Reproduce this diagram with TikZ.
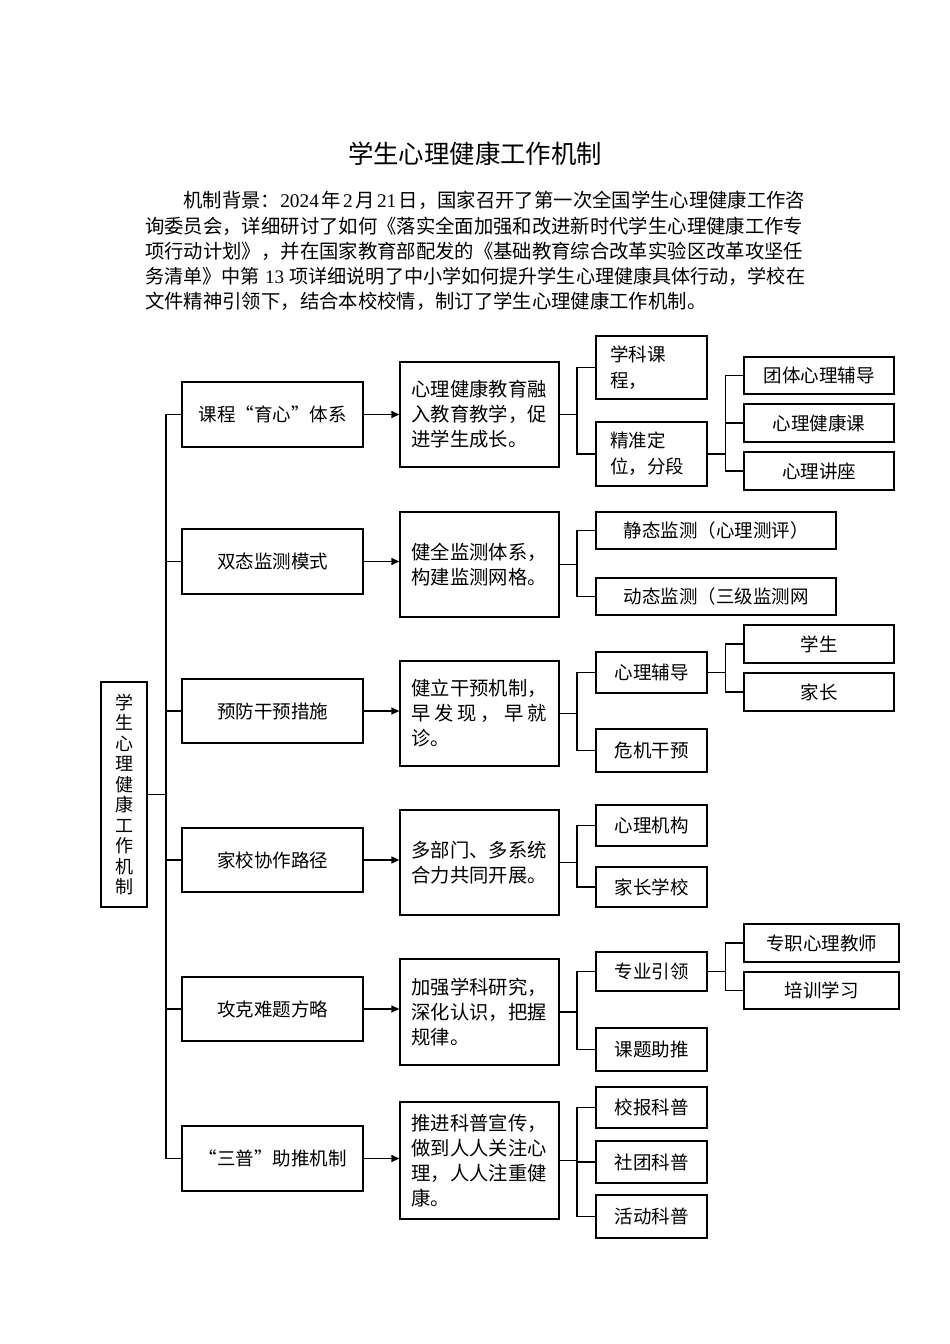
\documentclass[tikz,border=0pt]{standalone}
\usepackage{fontspec}
\setmainfont{Noto Sans CJK SC}
\newfontfamily\tnr{Liberation Serif}
\usetikzlibrary{arrows.meta}
\newcommand\ggap{\hspace{0pt plus 1fil}}
\newcommand\fgap{\hspace{0pt plus 1fil}}
\newcommand\bodyfnt{\fontsize{19.35}{25}\selectfont}
\begin{document}
\begin{tikzpicture}[x=1pt,y=-1pt,
  bx/.style={draw=black, line width=1.3pt, inner sep=0pt, align=center, font=\fontsize{18.5}{25}\selectfont},
  lft/.style={bx, minimum width=181pt},
  mid/.style={bx, minimum width=159pt, text width=136pt, inner xsep=11.5pt, align=left, font=\fontsize{19.3}{25}\selectfont},
  rt/.style={bx, minimum width=111pt},
  rtml/.style={bx, minimum width=111pt, text width=83pt, inner xsep=14pt, align=left, font=\fontsize{18.5}{26}\selectfont},
  far/.style={bx, minimum width=150pt},
  conn/.style={line width=1.3pt},
  arr/.style={conn, -{Triangle[length=8pt,width=7pt]}},
  bodyline/.style={anchor=west, inner sep=0pt, font=\bodyfnt}
]
\useasboundingbox (0,0) rectangle (950,1344);
\fill[white] (0,0) rectangle (950,1344);

% title and background text
\node[font=\fontsize{25.4}{30}\selectfont, inner sep=0pt] (title) at (475,153.3) {学生心理健康工作机制};
\node[bodyline] (l1) at (183.3,200.7) {\makebox[621.7pt][s]{机制背景：{\tnr 2024}\ggap 年\ggap{\tnr 2}\ggap 月\ggap{\tnr 21}\ggap 日，国家召开了第一次全国学生心理健康工作咨}};
\node[bodyline] (l2) at (145,226.7) {\makebox[660pt][s]{询委员会，详细研讨了如何《落实全面加强和改进新时代学生心理健康工作专}};
\node[bodyline] (l3) at (145,251.7) {\makebox[660pt][s]{项行动计划》，并在国家教育部配发的《基础教育综合改革实验区改革攻坚任}};
\node[bodyline, font=\fontsize{19.1}{25}\selectfont] (l4) at (145,276.7) {\makebox[660pt][s]{务清单》中第\fgap{\tnr 13}\fgap 项详细说明了中小学如何提升学生心理健康具体行动，学校在}};
\node[bodyline] (l5) at (145,301.7) {文件精神引领下，结合本校校情，制订了学生心理健康工作机制。};

% root
\node[bx, minimum width=46pt, minimum height=225pt, font=\fontsize{18}{20.5}\selectfont] (root) at (124,794.5) {学\\生\\心\\理\\健\\康\\工\\作\\机\\制};

% left column
\node[lft, minimum height=65pt] (b1) at (272.5,414.5) {课程“育心”体系};
\node[lft, minimum height=65pt] (b2) at (272.5,561.5) {双态监测模式};
\node[lft, minimum height=64pt] (b3) at (272.5,711) {预防干预措施};
\node[lft, minimum height=64pt] (b4) at (272.5,860) {家校协作路径};
\node[lft, minimum height=64pt] (b5) at (272.5,1009) {攻克难题方略};
\node[lft, minimum height=65pt] (b6) at (272.5,1158.5) {“三普”助推机制};

% middle column
\node[mid, minimum height=105pt] (m1) at (479.5,414.5) {心理健康教育融\\入教育教学，促\\进学生成长。};
\node[mid, minimum height=105pt] (m2) at (479.5,564.5) {健全监测体系，\\构建监测网格。};
\node[mid, minimum height=105pt] (m3) at (479.5,713.5) {健立干预机制，\\\makebox[135pt][s]{早\hfil 发\hfil 现\hfil ，\hfil 早\hfil 就}\\诊。};
\node[mid, minimum height=105pt] (m4) at (479.5,862.5) {多部门、多系统\\合力共同开展。};
\node[mid, minimum height=106pt] (m5) at (479.5,1012) {加强学科研究，\\深化认识，把握\\规律。};
\node[mid, minimum height=117pt] (m6) at (479.5,1160.5) {推进科普宣传，\\做到人人关注心\\理，人人注重健\\康。};

% right column
\node[rtml, minimum height=63pt] (r11) at (651.5,367.5) {学科课\\程，};
\node[rtml, minimum height=64pt] (r12) at (651.5,454) {精准定\\位，分段};
\node[bx, minimum width=240pt, minimum height=37pt] (r21) at (716,530.5) {静态监测（心理测评）};
\node[bx, minimum width=240pt, minimum height=37pt] (r22) at (716,596.5) {动态监测（三级监测网};
\node[rt, minimum height=41pt] (r31) at (651.5,672.5) {心理辅导};
\node[rt, minimum height=43pt] (r32) at (651.5,750.5) {危机干预};
\node[rt, minimum height=41pt] (r41) at (651.5,825.5) {心理机构};
\node[rt, minimum height=40pt] (r42) at (651.5,887) {家长学校};
\node[rt, minimum height=39pt] (r51) at (651.5,971.5) {专业引领};
\node[rt, minimum height=43pt] (r52) at (651.5,1049.5) {课题助推};
\node[rt, minimum height=41pt] (r61) at (651.5,1107.5) {校报科普};
\node[rt, minimum height=42pt] (r62) at (651.5,1162) {社团科普};
\node[rt, minimum height=43pt] (r63) at (651.5,1216.5) {活动科普};

% far right column
\node[far, minimum height=37pt] (s1) at (819,375.5) {团体心理辅导};
\node[far, minimum height=38pt] (s2) at (819,423) {心理健康课};
\node[far, minimum height=38pt] (s3) at (819,471) {心理讲座};
\node[far, minimum height=38pt] (s4) at (819,644) {学生};
\node[far, minimum height=38pt] (s5) at (819,692) {家长};
\node[bx, minimum width=155pt, minimum height=38pt] (s6) at (821.5,943) {专职心理教师};
\node[bx, minimum width=155pt, minimum height=37pt] (s7) at (821.5,990.5) {培训学习};

% junction x positions
\coordinate (tr) at (166,0);
\coordinate (ja) at (577,0);
\coordinate (jb) at (725.5,0);

% trunk
\draw[conn] (b1.west) -- (b1.west -| tr) -- (b6.west -| tr) -- (b6.west);
\foreach \n in {b2,b3,b4,b5} {\draw[conn] (\n.west) -- (\n.west -| tr);}
\draw[conn] (root.east) -- (root.east -| tr);

% arrows to middle boxes
\draw[arr] (b1.east) -- (b1.east -| m1.west);
\draw[arr] (b2.east) -- (b2.east -| m2.west);
\draw[arr] (b3.east) -- (b3.east -| m3.west);
\draw[arr] (b4.east) -- (b4.east -| m4.west);
\draw[arr] (b5.east) -- (b5.east -| m5.west);
\draw[arr] (b6.east) -- (b6.east -| m6.west);

% middle to right
\draw[conn] (m1.east) -- (m1.east -| ja);
\draw[conn] (r11.west) -- (r11.west -| ja) -- (r12.west -| ja) -- (r12.west);
\draw[conn] (m2.east) -- (m2.east -| ja);
\draw[conn] (r21.west) -- (r21.west -| ja) -- (r22.west -| ja) -- (r22.west);
\draw[conn] (m3.east) -- (m3.east -| ja);
\draw[conn] (r31.west) -- (r31.west -| ja) -- (r32.west -| ja) -- (r32.west);
\draw[conn] (m4.east) -- (m4.east -| ja);
\draw[conn] (r41.west) -- (r41.west -| ja) -- (r42.west -| ja) -- (r42.west);
\draw[conn] (m5.east) -- (m5.east -| ja);
\draw[conn] (r51.west) -- (r51.west -| ja) -- (r52.west -| ja) -- (r52.west);
\draw[conn] (m6.east) -- (m6.east -| ja);
\draw[conn] (r61.west) -- (r61.west -| ja) -- (r63.west -| ja) -- (r63.west);
\draw[conn] (r62.west) -- (r62.west -| ja);

% third level
\draw[conn] (r12.east) -- (r12.east -| jb);
\draw[conn] (s1.west) -- (s1.west -| jb) -- (s3.west -| jb) -- (s3.west);
\draw[conn] (s2.west) -- (s2.west -| jb);
\draw[conn] (r31.east) -- (r31.east -| jb);
\draw[conn] (s4.west) -- (s4.west -| jb) -- (s5.west -| jb) -- (s5.west);
\draw[conn] (r51.east) -- (r51.east -| jb);
\draw[conn] (s6.west) -- (s6.west -| jb) -- (s7.west -| jb) -- (s7.west);
\end{tikzpicture}
\end{document}
